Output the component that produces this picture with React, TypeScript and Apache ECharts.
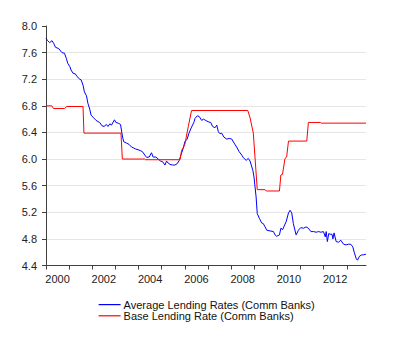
import React, { useEffect, useRef } from "react";
import * as echarts from "echarts";

const seriesNames = ["Average Lending Rates (Comm Banks)", "Base Lending Rate (Comm Banks)"];

// Average lending rate: [decimal year, value]
const avgTimes = [
  2000.00, 2000.07, 2000.16, 2000.26, 2000.33, 2000.41, 2000.55, 2000.69, 2000.80, 2000.88,
  2000.94, 2001.03, 2001.08, 2001.17, 2001.27, 2001.34, 2001.46, 2001.52, 2001.60, 2001.66,
  2001.75, 2001.81, 2001.89, 2001.95, 2002.03, 2002.14, 2002.21, 2002.32, 2002.42, 2002.51,
  2002.61, 2002.68, 2002.76, 2002.83, 2002.96, 2003.02, 2003.12, 2003.22, 2003.31, 2003.36,
  2003.48, 2003.59, 2003.70, 2003.77, 2003.88, 2003.98, 2004.09, 2004.17, 2004.27, 2004.35,
  2004.46, 2004.56, 2004.63, 2004.75, 2004.85, 2004.95, 2005.04, 2005.14, 2005.21, 2005.28,
  2005.36, 2005.47, 2005.57, 2005.67, 2005.76, 2005.86, 2005.93, 2006.00, 2006.10, 2006.18,
  2006.29, 2006.39, 2006.44, 2006.54, 2006.62, 2006.73, 2006.80, 2006.91, 2007.01, 2007.12,
  2007.20, 2007.30, 2007.38, 2007.45, 2007.52, 2007.59, 2007.69, 2007.81, 2007.92, 2008.03,
  2008.13, 2008.24, 2008.35, 2008.46, 2008.53, 2008.65, 2008.74, 2008.82, 2008.94, 2008.99,
  2009.08, 2009.13, 2009.22, 2009.32, 2009.39, 2009.47, 2009.54, 2009.68, 2009.83, 2009.90,
  2009.97, 2010.09, 2010.15, 2010.23, 2010.29, 2010.38, 2010.48, 2010.55, 2010.62, 2010.69,
  2010.81, 2010.91, 2011.01, 2011.13, 2011.24, 2011.34, 2011.45, 2011.56, 2011.68, 2011.78,
  2011.88, 2011.99, 2012.07, 2012.11, 2012.16, 2012.22, 2012.28, 2012.36, 2012.40, 2012.45,
  2012.54, 2012.64, 2012.74, 2012.86, 2012.97, 2013.07, 2013.17, 2013.26, 2013.32, 2013.41,
  2013.46, 2013.55, 2013.65, 2013.72, 2013.83,
];
const avgValues = [
  7.815, 7.78, 7.75, 7.78, 7.74, 7.68, 7.66, 7.60, 7.59, 7.51,
  7.44, 7.39, 7.34, 7.29, 7.28, 7.24, 7.20, 7.19, 7.11, 7.01,
  6.95, 6.84, 6.75, 6.66, 6.63, 6.59, 6.57, 6.55, 6.50, 6.49,
  6.52, 6.49, 6.53, 6.51, 6.59, 6.55, 6.54, 6.52, 6.33, 6.26,
  6.24, 6.22, 6.18, 6.17, 6.15, 6.14, 6.125, 6.11, 6.06, 6.025,
  6.03, 6.095, 6.03, 6.03, 6.00, 5.97, 5.96, 5.91, 5.97, 5.94,
  5.92, 5.91, 5.91, 5.93, 5.98, 6.09, 6.16, 6.26, 6.30, 6.39,
  6.48, 6.55, 6.61, 6.65, 6.64, 6.58, 6.60, 6.58, 6.56, 6.55,
  6.49, 6.47, 6.51, 6.41, 6.38, 6.39, 6.33, 6.30, 6.31, 6.30,
  6.24, 6.18, 6.11, 6.06, 6.02, 5.98, 6.01, 5.97, 5.83, 5.73,
  5.43, 5.18, 5.11, 5.04, 5.03, 4.98, 4.93, 4.92, 4.91, 4.86,
  4.84, 4.86, 4.96, 4.94, 4.99, 5.06, 5.19, 5.23, 5.19, 5.03,
  4.86, 4.93, 4.97, 4.96, 4.98, 4.96, 4.91, 4.91, 4.90, 4.91,
  4.90, 4.91, 4.83, 4.91, 4.76, 4.88, 4.87, 4.87, 4.80, 4.89,
  4.76, 4.75, 4.78, 4.72, 4.71, 4.72, 4.72, 4.68, 4.60, 4.50,
  4.48, 4.54, 4.56, 4.56, 4.57,
];

// Base lending rate: [decimal year, value]
const baseTimes = [
  2000.00, 2000.25, 2000.32, 2000.80, 2000.90, 2001.60, 2001.64, 2003.24, 2003.30, 2004.27,
  2004.30, 2005.79, 2005.86, 2005.93, 2006.00, 2006.15, 2006.29, 2008.72, 2008.82, 2008.96,
  2009.13, 2009.47, 2009.52, 2010.09, 2010.15, 2010.22, 2010.33, 2010.40, 2010.48, 2011.27,
  2011.34, 2011.85, 2011.90, 2013.83,
];
const baseValues = [
  6.80, 6.80, 6.76, 6.76, 6.79, 6.79, 6.39, 6.39, 6.00, 6.00,
  5.99, 5.99, 6.13, 6.17, 6.22, 6.49, 6.73, 6.73, 6.62, 6.39,
  5.54, 5.54, 5.52, 5.52, 5.76, 5.77, 6.01, 6.03, 6.27, 6.27,
  6.55, 6.55, 6.54, 6.54,
];

const yearTicks = [2000, 2001, 2002, 2003, 2004, 2005, 2006, 2007, 2008, 2009, 2010, 2011, 2012, 2013];
const yearLabels = [2000, 2002, 2004, 2006, 2008, 2010, 2012];

const FONT = "'Liberation Sans', Arial, sans-serif";

export default function App() {
  const ref = useRef<HTMLDivElement>(null);
  useEffect(() => {
    if (!ref.current) return;
    const chart = echarts.init(ref.current, null, { renderer: "svg" });
    const avgData = avgTimes.map((t, i) => [t, avgValues[i]]);
    const baseData = baseTimes.map((t, i) => [t, baseValues[i]]);
    const gridColors = ["#e6e6e6", "#e6e6e6", "#e6e6e6", "#e6e6e6", "#e6e6e6", "#e6e6e6", "#e6e6e6", "#e6e6e6", "#e6e6e6", "rgba(0,0,0,0)"];
    chart.setOption({
      animation: false,
      backgroundColor: "#ffffff",
      textStyle: { fontFamily: FONT },
      grid: { left: 46, top: 26, width: 320, height: 239.5, containLabel: false },
      xAxis: {
        type: "value",
        min: 2000,
        max: 2013.83,
        axisLine: { show: true, lineStyle: { color: "#404040", width: 1 } },
        axisTick: { show: true, length: 4, customValues: yearTicks, lineStyle: { color: "#404040" } },
        axisLabel: {
          customValues: yearLabels.map((y) => y + 0.5),
          formatter: (v: number) => String(Math.floor(v)),
          fontSize: 11,
          color: "#222",
          margin: 8,
          fontFamily: FONT,
        },
        splitLine: { show: false },
      },
      yAxis: {
        type: "value",
        min: 4.4,
        max: 8.0,
        interval: 0.4,
        axisLine: { show: true, lineStyle: { color: "#404040", width: 1 } },
        axisTick: { show: true, length: 4, lineStyle: { color: "#404040" } },
        axisLabel: {
          formatter: (v: number) => v.toFixed(1),
          fontSize: 11,
          color: "#222",
          margin: 9,
          fontFamily: FONT,
        },
        splitLine: { show: true, lineStyle: { color: gridColors, width: 1 } },
      },
      legend: {
        orient: "vertical",
        left: 98,
        top: 299,
        padding: 0,
        itemWidth: 22,
        itemHeight: 14,
        itemGap: 0,
        itemStyle: { opacity: 0 },
        lineStyle: { width: 1.2 },
        textStyle: { fontSize: 11, color: "#111", fontFamily: FONT, padding: [0, 0, 0, -2] },
        data: seriesNames,
      },
      series: [
        {
          name: seriesNames[0],
          type: "line",
          data: avgData,
          symbol: "none",
          lineStyle: { color: "#0000ff", width: 1 },
          itemStyle: { color: "#0000ff" },
        },
        {
          name: seriesNames[1],
          type: "line",
          data: baseData,
          symbol: "none",
          lineStyle: { color: "#ff0000", width: 1 },
          itemStyle: { color: "#ff0000" },
        },
      ],
    });
    return () => chart.dispose();
  }, []);
  return (
    <div
      ref={ref}
      style={{ position: "fixed", left: 0, top: 0, width: 400, height: 352, background: "#fff" }}
    />
  );
}
